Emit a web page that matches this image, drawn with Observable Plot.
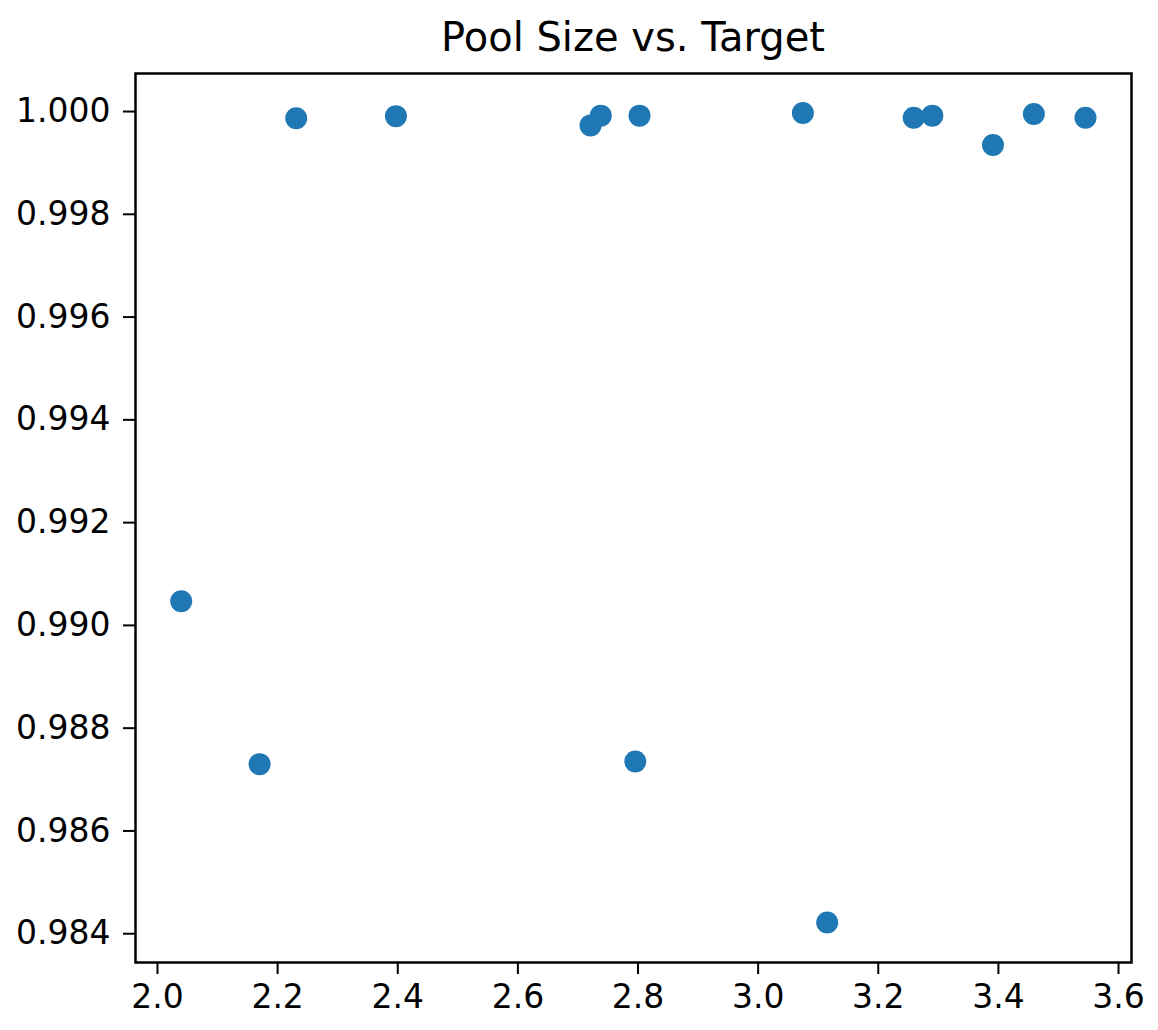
<!DOCTYPE html>
<html>
<head>
<meta charset="utf-8">
<script src="https://cdn.jsdelivr.net/npm/d3@7"></script>
<script src="https://cdn.jsdelivr.net/npm/@observablehq/plot@0.6"></script>
<style>
  html, body { margin: 0; padding: 0; background: #fff; }
  #title {
    margin-left: 135px; width: 996px; height: 71px; box-sizing: border-box;
    padding-top: 17px; text-align: center; line-height: 1;
    font-family: "DejaVu Sans", sans-serif; font-size: 40px; color: #000;
  }
  #chart svg { display: block; }
</style>
</head>
<body>
<div id="title">Pool Size vs. Target</div>
<div id="chart"></div>
<script>
const poolSize = [2.0395, 2.170, 2.231, 2.397, 2.721, 2.738, 2.7955, 2.8025, 3.0745, 3.115, 3.259, 3.290, 3.391, 3.459, 3.545];
const target   = [0.99047, 0.98730, 0.99987, 0.99991, 0.99973, 0.99992, 0.98735, 0.99992, 0.99997, 0.98422, 0.99988, 0.99992, 0.99935, 0.99995, 0.99988];
const xTicks = [2.0, 2.2, 2.4, 2.6, 2.8, 3.0, 3.2, 3.4, 3.6];
const yTicks = [0.984, 0.986, 0.988, 0.990, 0.992, 0.994, 0.996, 0.998, 1.000];

const data = poolSize.map((x, i) => ({x, y: target[i]}));

const plot = Plot.plot({
  width: 1158,
  height: 959,
  marginTop: 2,
  marginBottom: 68,
  marginLeft: 135,
  marginRight: 27,
  style: {fontFamily: "DejaVu Sans, sans-serif", fontSize: "33px", color: "#000", background: "#fff"},
  x: {domain: [1.9634, 3.6216], label: null},
  y: {domain: [0.98344, 1.00074], label: null},
  marks: [
    Plot.axisX({ticks: xTicks, tickFormat: d3.format(".1f"), tickSize: 12, tickPadding: 10, strokeWidth: 2, fontSize: 33}),
    Plot.axisY({ticks: yTicks, tickFormat: d3.format(".3f"), tickSize: 12, tickPadding: 13, strokeWidth: 2, fontSize: 33}),
    Plot.dot(data, {x: "x", y: "y", r: 11, fill: "#1f77b4", stroke: "none"}),
    Plot.frame({stroke: "#000", strokeWidth: 2.5})
  ]
});
document.getElementById("chart").appendChild(plot);
</script>
</body>
</html>
